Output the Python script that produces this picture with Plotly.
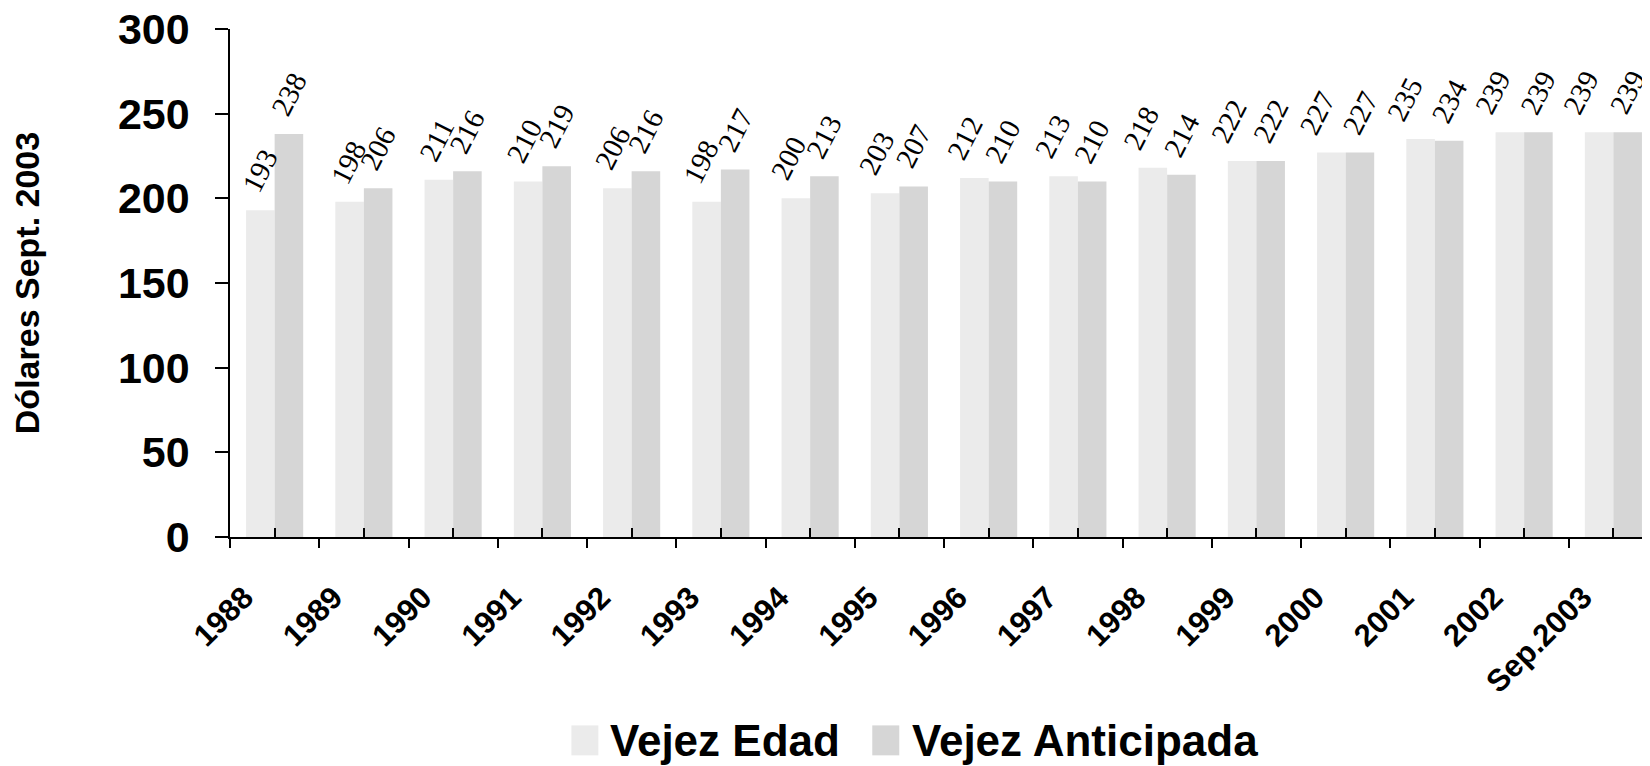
import plotly.graph_objects as go

categories = ["1988", "1989", "1990", "1991", "1992", "1993", "1994", "1995",
              "1996", "1997", "1998", "1999", "2000", "2001", "2002", "Sep.2003"]
vejez_edad = [193, 198, 211, 210, 206, 198, 200, 203, 212, 213, 218, 222, 227, 235, 239, 239]
vejez_anticipada = [238, 206, 216, 219, 216, 217, 213, 207, 210, 210, 214, 222, 227, 234, 239, 239]
y_ticks = [0, 50, 100, 150, 200, 250, 300]

names = ["Vejez Edad", "Vejez Anticipada"]
colors = ["#ebebeb", "#d6d6d6"]

W, H = 1650, 766
OFF = 8  # page body margin
L, R, T = 221.5, 0, 20.5
B = H - (537.3 - OFF)
n = len(categories)
xr = [-0.5, n - 0.5]
BARGAP = 0.36

fig = go.Figure()
for name, vals, col in zip(names, [vejez_edad, vejez_anticipada], colors):
    fig.add_trace(go.Bar(
        x=categories, y=vals, name=name, marker=dict(color=col, line=dict(width=0)),
        showlegend=False, cliponaxis=False,
    ))

for ax in ["x2", "x3"]:
    fig.add_trace(go.Scatter(x=[None], y=[None], xaxis=ax, yaxis="y",
                             showlegend=False, hoverinfo="skip"))

bold = dict(family="Liberation Sans, Arial, sans-serif", color="black", weight="bold")

fig.update_layout(
    width=W, height=H,
    margin=dict(l=L, r=R, t=T, b=B, autoexpand=False),
    paper_bgcolor="white", plot_bgcolor="white",
    barmode="group", bargap=BARGAP, bargroupgap=0,
    xaxis=dict(type="category", range=xr, ticks="inside", ticklen=9, tickwidth=1.5,
               tickcolor="black", showticklabels=False, showline=True, linecolor="black",
               linewidth=1.5, showgrid=False, zeroline=False),
    xaxis2=dict(overlaying="x", anchor="y", type="linear", range=xr,
                tickmode="array", tickvals=[i - 0.5 for i in range(n)],
                ticks="outside", ticklen=10, tickwidth=1.5, tickcolor="black",
                showticklabels=False, showline=False, showgrid=False, zeroline=False),
    xaxis3=dict(overlaying="x", anchor="y", type="linear", range=xr,
                tickmode="array", tickvals=[i - 0.5 + 0.16 for i in range(n)],
                ticktext=categories, tickangle=-45, ticks="", ticklabelstandoff=35,
                tickfont=dict(size=31, **bold), ticklabeloverflow="allow",
                showline=False, showgrid=False, zeroline=False),
    yaxis=dict(range=[0, 300], tickmode="array", tickvals=y_ticks, ticks="outside",
               ticklen=13, tickwidth=1.5, tickcolor="black", showline=True,
               linecolor="black", linewidth=1.5, showgrid=False, zeroline=False,
               tickfont=dict(size=43, **bold), ticklabelstandoff=17,
               ticklabeloverflow="allow",
               title=dict(text="Dólares Sept. 2003", font=dict(size=34, **bold), standoff=72)),
)

plot_w = W - L - R
plot_h = H - T - B
bar_off = (1 - BARGAP) / 4  # center offset of each bar within its group, in category units

# value labels above each bar
for vals, sign in [(vejez_edad, -1), (vejez_anticipada, 1)]:
    for i, v in enumerate(vals):
        drift = -1.2 * i if sign < 0 else 0
        fig.add_annotation(x=i + sign * bar_off, y=v, xref="x", yref="y", text=str(v),
                           showarrow=False, textangle=-63, xanchor="center",
                           yanchor="middle", yshift=40, xshift=drift,
                           font=dict(family="Liberation Serif, Times New Roman, serif",
                                     size=29, color="black"))

def px(xpage):
    return (xpage - OFF - L) / plot_w
def py(ypage):
    return (H - B - (ypage - OFF)) / plot_h

sw = [(571, 598), (872, 899)]
tx = [608, 910]
for (x0, x1), t, name, col in zip(sw, tx, names, colors):
    fig.add_shape(type="rect", xref="paper", yref="paper", x0=px(x0), x1=px(x1),
                  y0=py(756), y1=py(726), fillcolor=col, line=dict(width=0))
    fig.add_annotation(xref="paper", yref="paper", x=px(t), y=py(741), xanchor="left",
                       yanchor="middle", text=name, showarrow=False,
                       font=dict(size=44, **bold))

fig.write_html("out.html")
